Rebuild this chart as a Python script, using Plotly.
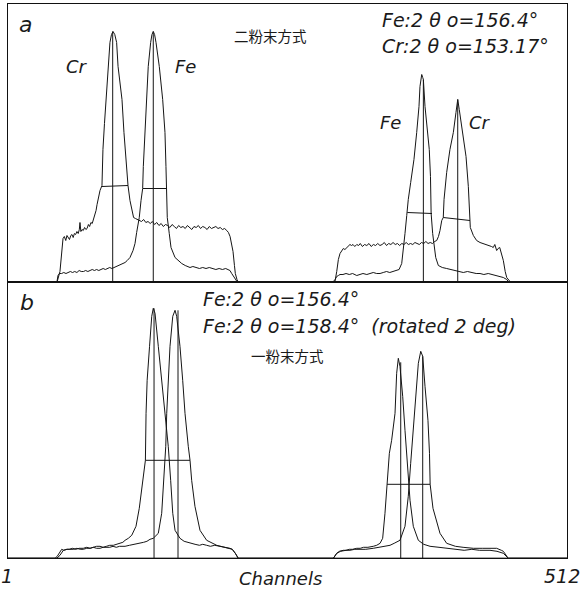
import plotly.graph_objects as go

# Channel axis of the multichannel detector
CH_RANGE = [1, 512]

# ---------- panel a : two-powder method (Cr + Fe) ----------
# (channel, counts) pairs, detector 1 (low-angle side)
a_cr_det1 = [(1, 0), (46, 0), (48.5, 10), (50, 32), (51.3, 43), (52.5, 45), (53.8, 41), (54.9, 46), (56, 44),
             (57.2, 42), (58.4, 46), (59.5, 47), (60.6, 44), (61.7, 48), (62.8, 47), (64, 50), (65.2, 48),
             (66.2, 52), (66.8, 59), (67.6, 50), (68.7, 52), (69.8, 51), (71, 54), (72.2, 52), (73.3, 53),
             (74.5, 57), (75.6, 55), (76.8, 59), (78, 58), (79.2, 62), (80.5, 66), (81.5, 71), (82.4, 77),
             (83.8, 86), (85.1, 91), (86.9, 96), (87.8, 132), (89.2, 158), (90.6, 182), (92.4, 215),
             (94.2, 239), (95.6, 247), (97.0, 250), (98.6, 247), (100.3, 239), (101.6, 215), (103.4, 198),
             (105.2, 182), (107.0, 149), (108.9, 122), (110.7, 96), (112.5, 81), (114.4, 69), (115.8, 64),
             (117.5, 63), (119.2, 62), (121, 61), (123, 60), (125, 62), (127, 59), (129, 60), (131, 58),
             (133, 60), (135, 57), (137, 59), (139, 56), (141, 58), (143, 55), (145, 57), (147, 56), (149, 54),
             (151, 57), (153, 55), (155, 53), (157, 56), (159, 54), (161, 55), (163, 53), (165, 56), (167, 54),
             (169, 52), (171, 55), (173, 54), (175, 56), (177, 53), (179, 55), (181, 54), (183, 52), (185, 55),
             (187, 53), (189, 54), (191, 55), (193, 53), (195, 54), (197, 52), (199, 53), (201, 51),
             (202.5, 49), (204, 45), (205.5, 38), (206.7, 30), (208, 16), (208.8, 8), (210.3, 2), (211.2, 0),
             (512, 0)]

a_fe_det1 = [(1, 0), (45.8, 0), (46.7, 6), (48, 8), (50, 8), (52, 9), (54, 8), (56, 9), (58, 10), (60, 9),
             (62, 10), (64, 9), (66, 11), (68, 10), (70, 10), (72, 11), (74, 10), (76, 11), (78, 12), (80, 11),
             (82, 12), (84, 11), (86, 12), (88, 13), (90, 12), (92, 13), (94, 14), (96, 13), (98, 14),
             (100, 15), (102, 16), (104, 17), (106, 18), (108, 19), (110, 21), (112.5, 24), (115.3, 31),
             (117.1, 38), (118.6, 49), (121, 64), (122.6, 81), (124.1, 93), (124.7, 115), (126.2, 149),
             (127.8, 182), (129.2, 215), (131.4, 239), (132.6, 247), (133.8, 250), (135, 247), (136.3, 239),
             (139.3, 215), (142.4, 182), (144.5, 149), (145.4, 115), (146.1, 93), (146.6, 64), (148.4, 48),
             (150, 34), (153.7, 24), (156.4, 21), (159.8, 18), (163, 16), (167.4, 14), (170, 15), (173, 14),
             (176, 13), (179, 14), (182, 13), (185, 14), (188, 13), (191, 12), (194, 13), (197, 12), (200, 13),
             (202, 12), (203.9, 11), (205.5, 8), (206.7, 6), (209, 2), (210.3, 0), (512, 0)]

# detector 2 (high-angle side)
a_fe_det2 = [(1, 0), (298.4, 0), (300, 2), (301.5, 5), (303, 6), (304.5, 7), (307.2, 7), (310, 8), (313, 7),
             (316, 8), (319.8, 6), (323, 7), (325.5, 8), (329, 7), (332, 8), (334.9, 9), (338, 8), (341.1, 8),
             (344, 9), (347, 10), (350, 9), (353, 10), (356.3, 11), (358.5, 12), (360.9, 18), (362.4, 31),
             (363.9, 48), (365.5, 66), (366.9, 82), (369.1, 99), (372.1, 122), (374.6, 149), (376.7, 175),
             (377.6, 195), (378.6, 203), (379.2, 207), (380.1, 204), (380.7, 202), (382.2, 175), (383.7, 155),
             (386.1, 132), (387.2, 105), (387.8, 68), (389.2, 48), (390.5, 34), (392, 24), (394.4, 16),
             (398, 14), (402, 13), (406, 12), (410, 11), (414, 10), (417.2, 9), (421, 10), (425, 9), (429, 8),
             (432.5, 8), (436, 7), (440, 8), (444, 7), (447.7, 6), (451, 5), (453.8, 4), (456.9, 2),
             (458.3, 0), (512, 0)]

a_cr_det2 = [(1, 0), (299.9, 0), (301.5, 10), (303, 22), (304.5, 28), (306, 31), (307.5, 33), (309, 32),
             (310.6, 34), (312, 35), (313.6, 37), (315, 36), (316.4, 37), (318, 35), (319.8, 37), (321.5, 36),
             (323, 38), (325, 35), (327, 37), (329, 36), (331, 38), (333, 35), (335, 37), (337, 36), (339, 38),
             (341, 36), (343, 37), (345, 39), (347, 36), (349, 38), (351, 37), (353, 39), (355, 37), (357, 38),
             (359, 36), (361, 38), (363, 37), (365, 39), (367, 37), (369, 38), (371, 37), (373, 39), (375, 38),
             (377, 37), (379, 39), (381, 38), (383, 40), (385, 38), (387, 39), (389, 38), (391, 40),
             (392.9, 41), (394.5, 45), (395.9, 51), (397.5, 61), (398.9, 64), (399.6, 82), (402, 109),
             (405, 132), (408.1, 149), (410.5, 169), (411.5, 178), (412.1, 182), (413.5, 172), (416.6, 149),
             (419.7, 125), (421.8, 95), (423, 61), (423.6, 54), (426.4, 46), (429.4, 41), (432.5, 39),
             (435.5, 38), (438.5, 37), (441.6, 36), (443, 35), (444.6, 34), (446, 37), (447.7, 31), (449, 33),
             (450.5, 34), (452.3, 28), (453.8, 21), (455.5, 10), (456.9, 4), (459.9, 0), (512, 0)]

# peak centroids: (channel, counts) -> vertical markers
a_centroids = [(96.7, 250), (133.8, 250), (380.7, 202), (412.1, 182)]
# half-width segments: (left ch, left counts, right ch, right counts)
a_fwhm = [(86.9, 95, 110.7, 96), (124.4, 93, 146.3, 93), (366.0, 69, 388.6, 68), (398.9, 64, 423.3, 61)]

# ---------- panel b : single-powder method (Fe, rotated 2 deg) ----------
b_fe1564_det1 = [(1, 0), (44, 0), (46, 2), (47.9, 5), (50.1, 9), (52, 8), (54.7, 9), (57, 9), (60, 10), (63, 9),
                 (66, 10), (69.8, 10), (73, 11), (76, 10), (79, 11), (82, 12), (85.1, 12), (88, 11), (91, 12),
                 (94, 13), (97.3, 13), (100, 14), (103, 15), (106, 16), (108, 18), (111, 20), (114.1, 23),
                 (118, 32), (121, 50), (124.2, 76), (126.6, 98), (127.2, 145), (128.2, 178), (130.4, 212),
                 (132.4, 242), (133.8, 250), (135.4, 245), (138.4, 212), (141.5, 178), (144.5, 145),
                 (147.5, 112), (149.7, 78), (151.6, 45), (153.7, 28), (158.2, 20), (162, 17), (167.4, 15),
                 (172, 14), (176, 13), (179, 14), (182.6, 13), (186, 12), (190, 13), (194.8, 12), (198, 11),
                 (201, 11), (203.9, 10), (206, 9), (207.5, 7), (208.8, 5), (211.5, 0), (512, 0)]

b_fe1584_det1 = [(1, 0), (45.5, 0), (48.5, 3), (51.6, 8), (55, 9), (58, 9), (61, 9), (64, 10), (67, 9),
                 (69.8, 9), (73, 10), (76, 10), (79, 11), (82, 10), (85.1, 10), (88, 11), (91, 11), (94, 11),
                 (97, 12), (100, 11), (103, 12), (108, 12), (112, 13), (117, 14), (121, 15), (125, 16), (128, 17),
                 (130.8, 19), (133.8, 20), (138.4, 25), (141.5, 45), (143, 72), (145.2, 112), (146.1, 145),
                 (147.5, 178), (149.1, 212), (151.6, 242), (153.7, 248), (155.2, 242), (158.2, 212),
                 (160.7, 178), (162.8, 145), (165.8, 112), (167.4, 98), (168.9, 78), (171.9, 52), (176.5, 28),
                 (182.6, 18), (191.8, 13), (196, 12), (200, 11), (203.9, 10), (206, 9), (208.8, 5), (211.5, 0),
                 (512, 0)]

b_fe1564_det2 = [(1, 0), (298.4, 0), (301.5, 5), (304, 7), (307.5, 8), (310, 8), (313, 9), (316, 9),
                 (319.8, 10), (323, 10), (326, 11), (330, 11), (334.9, 12), (338, 13), (341.1, 15),
                 (343.5, 20), (345.6, 45), (347.5, 74), (349.6, 105), (351.7, 118), (354.8, 145), (356.3, 185),
                 (357.8, 200), (359.3, 192), (361.8, 162), (363.9, 128), (366, 92), (368.5, 58), (371.5, 32),
                 (376.1, 18), (381, 14), (386.8, 12), (395, 11), (402, 10), (410, 9), (418, 8), (425, 9),
                 (432, 8), (441.6, 8), (448, 7), (453.8, 5), (458.3, 0), (512, 0)]

b_fe1584_det2 = [(1, 0), (298.4, 0), (301.5, 5), (305, 7), (310, 8), (313.6, 8), (318, 9), (323, 9), (328, 9),
                 (334.9, 10), (341, 11), (345, 12), (350.2, 13), (354, 15), (359.3, 18), (363.9, 32),
                 (366.9, 62), (369.1, 95), (371.5, 128), (374, 162), (376.1, 195), (378.3, 207), (380.1, 202),
                 (382.2, 172), (384.9, 138), (386.3, 105), (386.9, 74), (389.5, 50), (392.3, 38), (395.9, 25),
                 (402, 15), (410, 12), (417, 11), (426.4, 10), (435, 10), (441.6, 10), (447.7, 10), (452, 8),
                 (453.8, 7), (458.3, 0), (512, 0)]

b_centroids = [(134.5, 250), (156.4, 248), (360.0, 196), (380.1, 202)]
b_fwhm = [(126.6, 98, 167.4, 98), (347.5, 74, 386.9, 74)]

# ---------- text ----------
a_angles = ["Fe:2 θ o=156.4°", "Cr:2 θ o=153.17°"]
b_angles = ["Fe:2 θ o=156.4°", "Fe:2 θ o=158.4°\u00a0\u00a0(rotated 2 deg)"]
a_method = "二粉末方式"
b_method = "一粉末方式"
x_title = "Channels"
x_ends = ["1", "512"]

# ---------- figure ----------
W, H = 583, 594
LINE = dict(color="#151515", width=1)
FONT = "DejaVu Sans"

fig = go.Figure()


def add_profile(pairs, xa, ya):
    xs, ys = zip(*pairs)
    fig.add_trace(go.Scatter(x=list(xs), y=list(ys), mode="lines", line=LINE,
                             xaxis=xa, yaxis=ya, hoverinfo="skip", showlegend=False))


def add_markers(cents, fwhm, xa, ya):
    xs, ys = [], []
    for c, h in cents:
        xs += [c, c, None]
        ys += [0, h, None]
    for l, hl, r, hr in fwhm:
        xs += [l, r, None]
        ys += [hl, hr, None]
    fig.add_trace(go.Scatter(x=xs, y=ys, mode="lines", line=LINE, xaxis=xa, yaxis=ya,
                             hoverinfo="skip", showlegend=False))


for p in (a_cr_det1, a_fe_det1, a_fe_det2, a_cr_det2):
    add_profile(p, "x", "y")
add_markers(a_centroids, a_fwhm, "x", "y")

for p in (b_fe1564_det1, b_fe1584_det1, b_fe1564_det2, b_fe1584_det2):
    add_profile(p, "x2", "y2")
add_markers(b_centroids, b_fwhm, "x2", "y2")

x_dom = [8 / W, 567 / W]
mid = 1 - 281.5 / H
axis_common = dict(showline=True, mirror=True, linecolor="#111", linewidth=1, ticks="",
                   showticklabels=False, showgrid=False, zeroline=False)

fig.update_layout(
    width=W, height=H, margin=dict(l=0, r=0, t=0, b=0),
    paper_bgcolor="white", plot_bgcolor="white",
    xaxis=dict(domain=x_dom, range=CH_RANGE, anchor="y", **axis_common),
    yaxis=dict(domain=[mid, 1 - 4 / H], range=[0, 277.5], anchor="x", **axis_common),
    xaxis2=dict(domain=x_dom, range=CH_RANGE, anchor="y2", **axis_common),
    yaxis2=dict(domain=[1 - 558.3 / H, mid], range=[0, 276.8], anchor="x2", **axis_common),
)


def label(text, px, py, size, anchor="left", family=FONT, italic=True):
    fig.add_annotation(text=f"<i>{text}</i>" if italic else text, xref="paper", yref="paper",
                       x=px / W, y=1 - py / H, xanchor=anchor, yanchor="middle", showarrow=False,
                       font=dict(family=family, size=size, color="#1a1a1a"))


label("a", 25, 24, 22, "center")
label("b", 27, 302, 22, "center")
label(a_method, 232, 35, 14.5, family="Noto Sans CJK JP", italic=False)
label(a_angles[0], 380, 20, 19)
label(a_angles[1], 380, 46, 19)
label("Cr", 77, 67, 18, "center")
label("Fe", 185, 67, 18, "center")
label("Fe", 390, 122, 18, "center")
label("Cr", 480, 122, 18, "center")
label(b_angles[0], 201, 299, 19)
label(b_angles[1], 201, 326, 19)
label(b_method, 249, 355, 14.5, family="Noto Sans CJK JP", italic=False)
label(x_ends[0], 7, 576, 19, "center")
label(x_title, 280, 578, 18, "center")
label(x_ends[1], 582, 576, 19, "right")

fig.write_html("out.html")
